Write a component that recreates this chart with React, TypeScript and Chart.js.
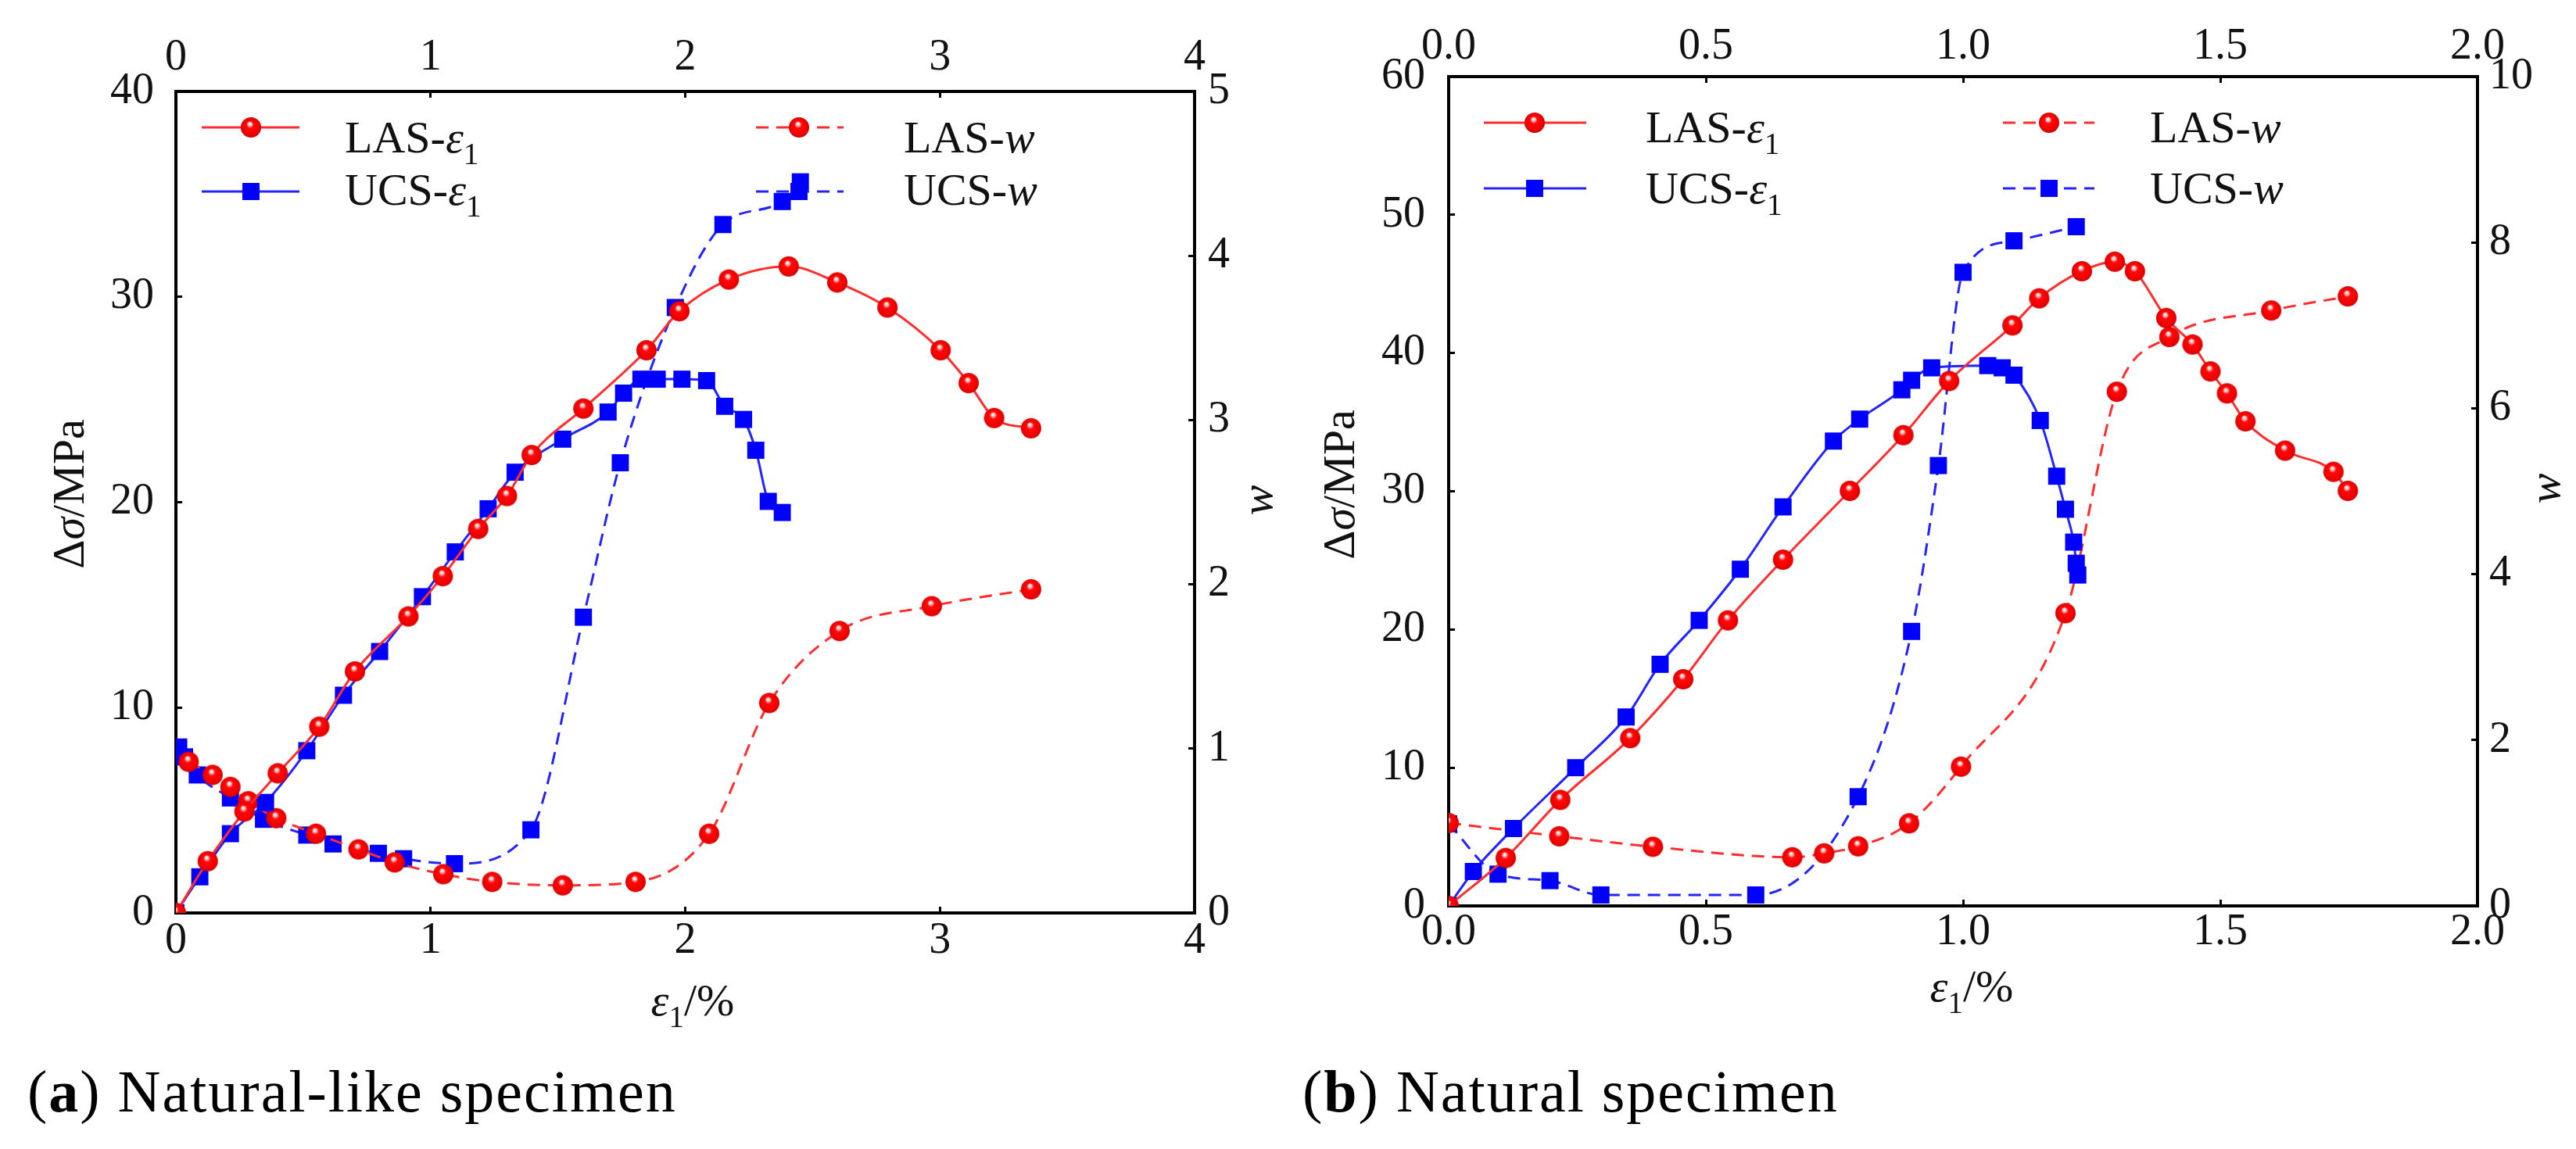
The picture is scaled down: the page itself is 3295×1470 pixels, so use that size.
import React, { useEffect, useRef } from 'react';
import { Chart, registerables } from 'chart.js';

Chart.register(...registerables);

const FONT = "'Liberation Serif', 'Times New Roman', serif";

// ---------- Panel (a): natural-like specimen ----------
const A_X_TICKS = [0, 1, 2, 3, 4];
const A_Y_TICKS = [0, 10, 20, 30, 40];
const A_W_TICKS = [0, 1, 2, 3, 4, 5];

const A_LAS_E1 = [
  [0, 0], [0.125, 2.52], [0.269, 4.94], [0.4, 6.8], [0.563, 9.07], [0.703, 11.76],
  [0.913, 14.44], [1.048, 16.4], [1.187, 18.7], [1.3, 20.3], [1.397, 22.3], [1.6, 24.56],
  [1.848, 27.4], [1.977, 29.3], [2.171, 30.84], [2.406, 31.48], [2.597, 30.7],
  [2.794, 29.48], [3.003, 27.4], [3.113, 25.8], [3.213, 24.1], [3.358, 23.6],
];
const A_UCS_E1 = [
  [0, 0], [0.094, 1.76], [0.214, 3.86], [0.352, 5.38], [0.514, 7.9], [0.658, 10.6],
  [0.8, 12.73], [0.968, 15.4], [1.097, 17.58], [1.226, 19.68], [1.332, 21.46],
  [1.519, 23.07], [1.697, 24.39], [1.758, 25.31], [1.826, 25.99], [1.89, 25.99],
  [1.987, 25.99], [2.084, 25.92], [2.155, 24.67], [2.229, 24.03], [2.277, 22.53],
  [2.326, 20.04], [2.381, 19.5],
];
const A_LAS_W = [
  [0.05, 0.92], [0.144, 0.84], [0.214, 0.767], [0.284, 0.68], [0.394, 0.577],
  [0.55, 0.482], [0.717, 0.387], [0.859, 0.308], [1.05, 0.236], [1.242, 0.189],
  [1.519, 0.168], [1.805, 0.189], [2.094, 0.482], [2.33, 1.278], [2.606, 1.716],
  [2.968, 1.867], [3.358, 1.97],
];
const A_UCS_W = [
  [0.011, 1.01], [0.034, 0.95], [0.084, 0.84], [0.214, 0.7], [0.344, 0.57],
  [0.514, 0.474], [0.617, 0.42], [0.795, 0.363], [0.894, 0.33], [1.094, 0.3],
  [1.394, 0.506], [1.6, 1.8], [1.745, 2.74], [1.961, 3.685], [2.148, 4.19],
  [2.381, 4.33], [2.452, 4.45],
];

// ---------- Panel (b): natural specimen ----------
const B_X_TICKS = [0, 0.5, 1.0, 1.5, 2.0];
const B_Y_TICKS = [0, 10, 20, 30, 40, 50, 60];
const B_W_TICKS = [0, 2, 4, 6, 8, 10];

const B_LAS_E1 = [
  [0, 0], [0.111, 3.47], [0.217, 7.67], [0.353, 12.14], [0.456, 16.4], [0.543, 20.66],
  [0.65, 25.05], [0.78, 30.03], [0.884, 34.06], [0.973, 37.98], [1.096, 42.0],
  [1.148, 43.96], [1.231, 45.92], [1.295, 46.61], [1.334, 45.92], [1.395, 42.53],
  [1.446, 40.62], [1.481, 38.67], [1.513, 37.08], [1.549, 35.06], [1.626, 32.94],
  [1.72, 31.41], [1.748, 30.03],
];
const B_UCS_E1 = [
  [0, 0], [0.048, 2.49], [0.126, 5.6], [0.247, 10.0], [0.345, 13.67], [0.411, 17.48],
  [0.487, 20.66], [0.567, 24.36], [0.65, 28.87], [0.748, 33.63], [0.799, 35.22],
  [0.881, 37.34], [0.9, 38.03], [0.939, 38.93], [1.048, 39.09], [1.076, 38.93],
  [1.099, 38.4], [1.15, 35.12], [1.182, 31.09], [1.199, 28.7], [1.215, 26.32],
  [1.22, 24.79], [1.223, 23.94],
];
const B_LAS_W = [
  [0, 1.0], [0.215, 0.84], [0.397, 0.713], [0.668, 0.587], [0.73, 0.634],
  [0.796, 0.719], [0.895, 0.996], [0.996, 1.68], [1.199, 3.53], [1.299, 6.2],
  [1.401, 6.86], [1.599, 7.18], [1.748, 7.35],
];
const B_UCS_W = [
  [0, 0.99], [0.096, 0.383], [0.197, 0.305], [0.296, 0.132], [0.597, 0.132],
  [0.796, 1.317], [0.9, 3.31], [0.952, 5.31], [1.0, 7.64], [1.099, 8.02], [1.22, 8.19],
];

const CANVAS_H = 1340;

const PANEL_A = {
  left: 0, w: 1650,
  box: { left: 225, top: 117, right: 122, bottom: 172 },
  xMax: 4, yMax: 40, wMax: 5, digits: 0,
  xTicks: A_X_TICKS, yTicks: A_Y_TICKS, wTicks: A_W_TICKS,
  lasE1: A_LAS_E1, ucsE1: A_UCS_E1, lasW: A_LAS_W, ucsW: A_UCS_W,
  pad: { bottom: 11, top: 17, left: 36, right: 25 },
  titles: { y: { dx: -137, dy: 515 }, w: { dx: 80, dy: 523 }, x: { dx: 661, dy: 112 } },
  legend: {
    rows: [46, 128], base: [78, 145],
    cols: [{ x0: 33, x1: 158, m: 96, t: 216 }, { x0: 742, x1: 854, m: 797, t: 931 }],
  },
};

const PANEL_B = {
  left: 1650, w: 1645,
  box: { left: 203, top: 98, right: 126, bottom: 181 },
  xMax: 2, yMax: 60, wMax: 10, digits: 1,
  xTicks: B_X_TICKS, yTicks: B_Y_TICKS, wTicks: B_W_TICKS,
  lasE1: B_LAS_E1, ucsE1: B_UCS_E1, lasW: B_LAS_W, ucsW: B_UCS_W,
  pad: { bottom: 9, top: 12, left: 38, right: 23 },
  titles: { y: { dx: -140, dy: 522 }, w: { dx: 86, dy: 527 }, x: { dx: 669, dy: 103 } },
  legend: {
    rows: [59, 143], base: [84, 162],
    cols: [{ x0: 45, x1: 176, m: 110, t: 252 }, { x0: 709, x1: 826, m: 768, t: 897 }],
  },
};

const RED_LINE = 'rgb(255,45,45)';
const BLUE_LINE = 'rgb(35,35,255)';
const RED = '#ff0000';
const BLUE = '#0000ff';

type Run = { t: string; it?: boolean; sub?: boolean };

function fontOf(size: number, r: Run) {
  const s = r.sub ? Math.round(size * 0.68) : size;
  return `${r.it ? 'italic ' : ''}${s}px ${FONT}`;
}

function drawRuns(ctx: CanvasRenderingContext2D, runs: Run[], x: number, y: number, size: number, rot: number, center: boolean) {
  ctx.save();
  ctx.translate(x, y);
  ctx.rotate(rot);
  ctx.fillStyle = '#111';
  ctx.textBaseline = 'alphabetic';
  ctx.textAlign = 'left';
  const widths = runs.map((r) => { ctx.font = fontOf(size, r); return ctx.measureText(r.t).width; });
  const total = widths.reduce((a, b) => a + b, 0);
  let cx = center ? -total / 2 : 0;
  const base = center ? size * 0.33 : 0;
  runs.forEach((r, i) => {
    ctx.font = fontOf(size, r);
    ctx.fillText(r.t, cx, base + (r.sub ? size * 0.25 : 0));
    cx += widths[i];
  });
  ctx.restore();
}

function labelRuns(label: string): Run[] {
  const i = label.indexOf('-');
  const pre = label.slice(0, i + 1);
  const sym = label.slice(i + 1);
  if (sym === 'ε1') return [{ t: pre }, { t: 'ε', it: true }, { t: '1', sub: true }];
  return [{ t: pre }, { t: sym, it: true }];
}

function makeBall(r: number) {
  const c = document.createElement('canvas');
  const s = Math.ceil(r * 2) + 2;
  c.width = s;
  c.height = s;
  const ctx = c.getContext('2d')!;
  const cx = s / 2;
  const cy = s / 2;
  const g = ctx.createRadialGradient(cx - r * 0.12, cy - r * 0.38, r * 0.04, cx, cy, r);
  g.addColorStop(0, '#ffffff');
  g.addColorStop(0.16, '#ffb0b0');
  g.addColorStop(0.32, '#ff0a0a');
  g.addColorStop(0.8, '#f00000');
  g.addColorStop(1, '#d00000');
  ctx.fillStyle = g;
  ctx.beginPath();
  ctx.arc(cx, cy, r, 0, Math.PI * 2);
  ctx.fill();
  return c;
}

const decorPlugin = {
  id: 'decor',
  afterDraw(chart: any, _args: any, o: any) {
    const ctx: CanvasRenderingContext2D = chart.ctx;
    const a = chart.chartArea;
    const T = o.titles;
    drawRuns(ctx, [{ t: 'Δ' }, { t: 'σ', it: true }, { t: '/MPa' }], a.left + T.y.dx, a.top + T.y.dy, 58, -Math.PI / 2, true);
    drawRuns(ctx, [{ t: 'w', it: true }], a.right + T.w.dx, a.top + T.w.dy, 58, -Math.PI / 2, true);
    drawRuns(ctx, [{ t: 'ε', it: true }, { t: '1', sub: true }, { t: '/%' }], a.left + T.x.dx, a.bottom + T.x.dy, 58, 0, true);

    const L = o.legend;
    chart.data.datasets.forEach((d: any, i: number) => {
      const col = L.cols[i < 2 ? 0 : 1];
      const row = i % 2;
      const y = a.top + L.rows[row];
      ctx.save();
      ctx.strokeStyle = d.borderColor;
      ctx.lineWidth = d.borderWidth;
      ctx.setLineDash(d.borderDash || []);
      ctx.beginPath();
      ctx.moveTo(a.left + col.x0, y);
      ctx.lineTo(a.left + col.x1, y);
      ctx.stroke();
      ctx.setLineDash([]);
      const mx = a.left + col.m;
      if (typeof d.pointStyle === 'object') {
        const img = d.pointStyle as HTMLCanvasElement;
        ctx.drawImage(img, mx - img.width / 2, y - img.height / 2);
      } else {
        const side = d.pointRadius * Math.SQRT1_2 * 2;
        ctx.fillStyle = d.pointBackgroundColor;
        ctx.fillRect(mx - side / 2, y - side / 2, side, side);
      }
      ctx.restore();
      drawRuns(ctx, labelRuns(d.label), a.left + col.t, a.top + L.base[row], 58, 0, false);
    });
  },
};

function buildConfig(p: typeof PANEL_A, ball: HTMLCanvasElement): any {
  const toPts = (arr: number[][]) => arr.map(([x, y]) => ({ x, y }));
  const ds = (label: string, data: number[][], axis: string, line: string, mark: string, dashed: boolean, isBall: boolean) => ({
    label,
    data: toPts(data),
    xAxisID: 'x',
    yAxisID: axis,
    showLine: true,
    fill: false,
    borderColor: line,
    backgroundColor: mark,
    borderWidth: 3,
    borderDash: dashed ? [16, 10] : [],
    cubicInterpolationMode: 'monotone',
    pointStyle: isBall ? ball : 'rect',
    pointRadius: isBall ? 13 : 15.5,
    pointBackgroundColor: mark,
    pointBorderWidth: 0,
    pointBorderColor: mark,
  });
  const tickFont = { family: FONT, size: 56 };
  const fmt = (v: number) => v.toFixed(p.digits);
  const axis = (position: string, max: number, ticks: number[], pad: number, fit: (s: any) => void, dashed: boolean, isX: boolean) => ({
    type: 'linear',
    position,
    min: 0,
    max,
    afterBuildTicks: (s: any) => { s.ticks = ticks.map((v) => ({ value: v })); },
    afterFit: fit,
    ticks: {
      font: tickFont,
      color: '#111',
      padding: pad,
      autoSkip: false,
      maxRotation: 0,
      minRotation: 0,
      callback: (v: number) => (isX ? fmt(v) : String(v)),
    },
    grid: { display: true, drawOnChartArea: false, drawTicks: true, tickLength: -8, tickWidth: 3, tickColor: '#000' },
    border: { display: true, color: '#000', width: 4, dash: dashed ? [18, 16] : [] },
    title: { display: false },
  });
  return {
    type: 'scatter',
    data: {
      datasets: [
        ds('LAS-ε1', p.lasE1, 'y', RED_LINE, RED, false, true),
        ds('UCS-ε1', p.ucsE1, 'y', BLUE_LINE, BLUE, false, false),
        ds('LAS-w', p.lasW, 'y2', RED_LINE, RED, true, true),
        ds('UCS-w', p.ucsW, 'y2', BLUE_LINE, BLUE, true, false),
      ],
    },
    options: {
      responsive: false,
      animation: false,
      events: [],
      layout: { padding: 0, autoPadding: false },
      scales: {
        x: axis('bottom', p.xMax, p.xTicks, p.pad.bottom, (s: any) => { s.height = p.box.bottom; }, false, true),
        x2: axis('top', p.xMax, p.xTicks, p.pad.top, (s: any) => { s.height = p.box.top; }, false, true),
        y: axis('left', p.yMax, p.yTicks, p.pad.left, (s: any) => { s.width = p.box.left; }, false, false),
        y2: axis('right', p.wMax, p.wTicks, p.pad.right, (s: any) => { s.width = p.box.right; }, true, false),
      },
      plugins: {
        legend: { display: false },
        tooltip: { enabled: false },
        decor: { titles: p.titles, legend: p.legend },
      },
    },
    plugins: [decorPlugin],
  };
}

function Panel({ p }: { p: typeof PANEL_A }) {
  const ref = useRef<HTMLCanvasElement>(null);
  useEffect(() => {
    const ball = makeBall(13);
    const chart = new Chart(ref.current as HTMLCanvasElement, buildConfig(p, ball));
    return () => chart.destroy();
  }, [p]);
  return (
    <canvas
      ref={ref}
      width={p.w}
      height={CANVAS_H}
      style={{ position: 'absolute', left: p.left, top: 0, width: p.w, height: CANVAS_H }}
    />
  );
}

const captionStyle: React.CSSProperties = {
  position: 'absolute',
  top: 1358,
  fontFamily: FONT,
  fontSize: 76,
  lineHeight: 1,
  letterSpacing: 2,
  color: '#000',
  whiteSpace: 'nowrap',
};

export default function App() {
  return (
    <div style={{ position: 'fixed', left: 0, top: 0, width: 3295, height: 1470, background: '#fff', overflow: 'hidden' }}>
      <Panel p={PANEL_A} />
      <Panel p={PANEL_B as typeof PANEL_A} />
      <div style={{ ...captionStyle, left: 35 }}>(<b>a</b>) Natural-like specimen</div>
      <div style={{ ...captionStyle, left: 1666 }}>(<b>b</b>) Natural specimen</div>
    </div>
  );
}
